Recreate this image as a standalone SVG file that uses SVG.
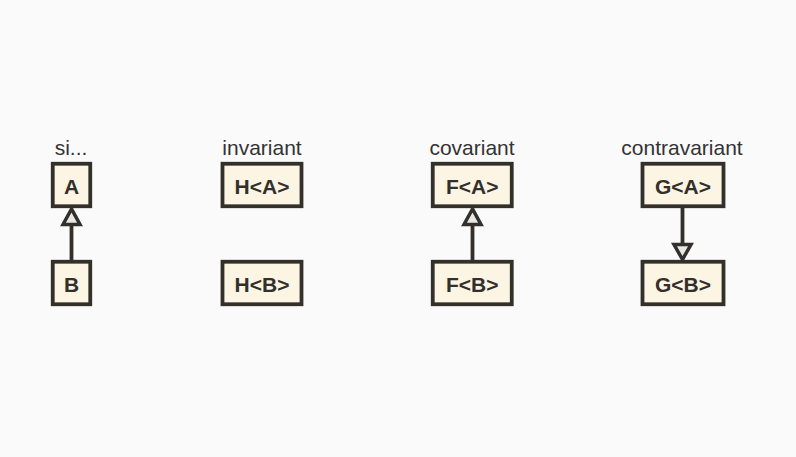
<svg xmlns="http://www.w3.org/2000/svg" width="796" height="457" viewBox="0 0 796 457">
<defs>
<style>
.box{fill:#fcf5e4;stroke:#33302c;stroke-width:3.8}
.nt{font-family:"Liberation Sans",Arial,sans-serif;font-weight:bold;font-size:21px;fill:#33302c;text-anchor:middle}
.lb{font-family:"Liberation Sans",Arial,sans-serif;font-size:21px;fill:#333;text-anchor:middle}
.edge{stroke:#33302c;stroke-width:3.8;fill:none}
.head{fill:#e9e8e2;stroke:#33302c;stroke-width:3.5;stroke-linejoin:miter}
</style>
</defs>
<rect width="796" height="457" fill="#fafafa"/>
<g id="labels">
<text class="lb" x="71" y="155">si...</text>
<text class="lb" x="262" y="155">invariant</text>
<text class="lb" x="472" y="155">covariant</text>
<text class="lb" x="682" y="155">contravariant</text>
</g>
<g id="connectors">
<line class="edge" x1="71.5" y1="260" x2="71.5" y2="224"/>
<polygon class="head" points="71.5,209 63,224.5 80,224.5"/>
<line class="edge" x1="472.5" y1="260" x2="472.5" y2="224"/>
<polygon class="head" points="472.5,209 464,224.5 481,224.5"/>
<line class="edge" x1="682.5" y1="208" x2="682.5" y2="245"/>
<polygon class="head" points="682.5,259.5 674,244.5 691,244.5"/>
</g>
<g id="nA"><rect class="box" x="52.75" y="163.75" width="37.5" height="42.5"/><text class="nt" x="71.5" y="193.5">A</text></g>
<g id="nB"><rect class="box" x="52.75" y="261.75" width="37.5" height="42.5"/><text class="nt" x="71.5" y="291.5">B</text></g>
<g id="nHA"><rect class="box" x="222.5" y="163.75" width="79" height="42.5"/><text class="nt" x="262" y="193.5">H&lt;A&gt;</text></g>
<g id="nHB"><rect class="box" x="222.5" y="261.75" width="79" height="42.5"/><text class="nt" x="262" y="291.5">H&lt;B&gt;</text></g>
<g id="nFA"><rect class="box" x="432.75" y="163.75" width="79" height="42.5"/><text class="nt" x="472.25" y="193.5">F&lt;A&gt;</text></g>
<g id="nFB"><rect class="box" x="432.75" y="261.75" width="79" height="42.5"/><text class="nt" x="472.25" y="291.5">F&lt;B&gt;</text></g>
<g id="nGA"><rect class="box" x="642.5" y="163.75" width="81" height="42.5"/><text class="nt" x="683" y="193.5">G&lt;A&gt;</text></g>
<g id="nGB"><rect class="box" x="642.5" y="261.75" width="81" height="42.5"/><text class="nt" x="683" y="291.5">G&lt;B&gt;</text></g>
</svg>
